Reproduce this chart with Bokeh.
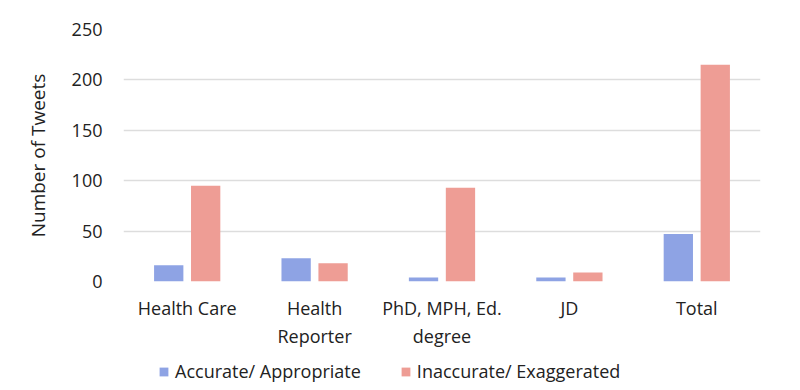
from bokeh.plotting import figure
from bokeh.models import Range1d, FactorRange, ColumnDataSource, Legend, LegendItem
from bokeh.layouts import column
from bokeh.transform import dodge
from bokeh.embed import file_html
from bokeh.resources import INLINE

categories = ["Health Care", "Health\nReporter", "PhD, MPH, Ed.\ndegree", "JD", "Total"]
accurate = [16, 23, 4, 4, 47]
inaccurate = [95, 18, 93, 9, 215]
series_names = ["Accurate/ Appropriate", "Inaccurate/ Exaggerated"]
y_ticks = [0, 50, 100, 150, 200, 250]

FONT = "Open Sans"
BLUE = "#8EA3E4"
RED = "#EE9D95"
TXT = "#222222"

src = ColumnDataSource(dict(cat=categories, acc=accurate, inacc=inaccurate))

p = figure(frame_width=637, frame_height=252, output_backend="svg", toolbar_location=None,
           x_range=FactorRange(*categories, range_padding=0),
           y_range=Range1d(0, 250),
           min_border_left=123, min_border_right=24, min_border_top=29, min_border_bottom=75)
p.outline_line_color = None
p.background_fill_color = "white"
p.border_fill_color = "white"

r1 = p.vbar(x=dodge("cat", -0.145, range=p.x_range), top="acc", width=0.23, source=src,
            fill_color=BLUE, line_color=None)
r2 = p.vbar(x=dodge("cat", 0.145, range=p.x_range), top="inacc", width=0.23, source=src,
            fill_color=RED, line_color=None)

p.xgrid.grid_line_color = None
p.ygrid.grid_line_color = "#dddddd"
p.ygrid.grid_line_width = 1.5
p.yaxis.ticker = y_ticks

for ax in (p.xaxis, p.yaxis):
    ax.axis_line_color = None
    ax.major_tick_line_color = None
    ax.minor_tick_line_color = None
    ax.major_tick_out = 0
    ax.major_tick_in = 0
    ax.major_label_text_font = FONT
    ax.major_label_text_font_size = "18px"
    ax.major_label_text_color = TXT

p.yaxis.major_label_standoff = 21
p.xaxis.major_label_standoff = 14
p.yaxis.axis_label = "Number of Tweets"
p.yaxis.axis_label_text_font = FONT
p.yaxis.axis_label_text_font_size = "19px"
p.yaxis.axis_label_text_font_style = "normal"
p.yaxis.axis_label_text_color = TXT
p.yaxis.axis_label_standoff = 18

# legend strip below the chart (hidden proxy renderers carry the legend swatches)
p2 = figure(width=784, height=30, output_backend="svg", toolbar_location=None,
            x_range=FactorRange(*categories), y_range=Range1d(0, 1),
            x_axis_type=None, y_axis_type=None,
            min_border_left=0, min_border_right=0, min_border_top=0, min_border_bottom=0)
p2.outline_line_color = None
p2.grid.grid_line_color = None
p2.border_fill_color = "white"
l1 = p2.vbar(x="cat", top="acc", width=0.2, source=src, fill_color=BLUE, line_color=None)
l2 = p2.vbar(x="cat", top="inacc", width=0.2, source=src, fill_color=RED, line_color=None)
l1.visible = False
l2.visible = False

legend = Legend(items=[LegendItem(label=series_names[0], renderers=[l1]),
                       LegendItem(label=series_names[1], renderers=[l2])],
                orientation="horizontal", location=(35, 3),
                label_text_font=FONT, label_text_font_size="18px", label_text_color=TXT,
                glyph_width=11, glyph_height=11, spacing=39, label_standoff=6,
                inactive_fill_alpha=0, click_policy="none",
                border_line_color=None, background_fill_alpha=0, padding=0, margin=0)
p2.add_layout(legend, "center")

layout = column(p, p2, spacing=0)
open("out.html", "w").write(file_html(layout, INLINE))
